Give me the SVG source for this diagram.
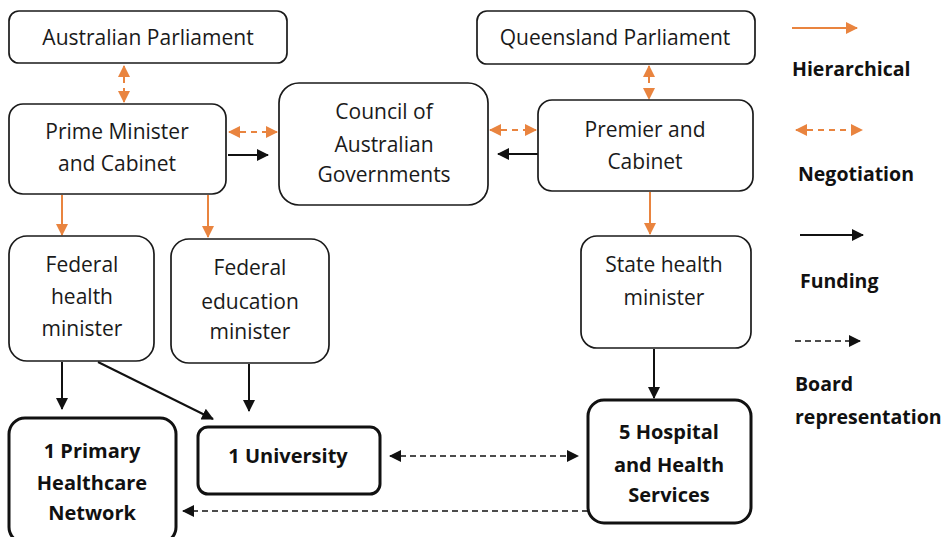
<svg xmlns="http://www.w3.org/2000/svg" width="950" height="537" viewBox="0 0 950 537">
<style>
.box{fill:#fff;stroke:#1a1a1a;stroke-width:1.7}
.thick{fill:#fff;stroke:#111;stroke-width:3}
.t{font-family:"Open Sans","Liberation Sans",sans-serif;font-size:21px;fill:#1a1a1a;text-anchor:middle}
.b{font-family:"Open Sans","Liberation Sans",sans-serif;font-size:20px;font-weight:bold;fill:#111;text-anchor:middle}
.lg{font-family:"Open Sans","Liberation Sans",sans-serif;font-size:19.5px;font-weight:bold;fill:#111}
.hier{stroke:#E9843F;stroke-width:2;fill:none;marker-end:url(#oh)}
.neg{stroke:#E9843F;stroke-width:2;fill:none;stroke-dasharray:6,5;marker-start:url(#oh);marker-end:url(#oh)}
.fund{stroke:#111;stroke-width:2;fill:none;marker-end:url(#bh)}
.board{stroke:#111;stroke-width:1.6;fill:none;stroke-dasharray:6,4;marker-end:url(#bh)}
.board2{stroke:#111;stroke-width:1.6;fill:none;stroke-dasharray:6,4;marker-start:url(#bh);marker-end:url(#bh)}
</style>
<defs>
<marker id="oh" markerUnits="userSpaceOnUse" markerWidth="12" markerHeight="12" refX="11" refY="6" orient="auto-start-reverse">
<path d="M0,0 L12,6 L0,12 z" fill="#E9843F"/>
</marker>
<marker id="bh" markerUnits="userSpaceOnUse" markerWidth="12" markerHeight="12" refX="11" refY="6" orient="auto-start-reverse">
<path d="M0,0 L12,6 L0,12 z" fill="#111"/>
</marker>
</defs>
<rect width="950" height="537" fill="#fff"/>

<g id="connectors">
<line class="neg" x1="124" y1="66" x2="124" y2="102"/>
<line class="neg" x1="229" y1="132" x2="277" y2="132"/>
<line class="fund" x1="228" y1="155" x2="268" y2="155"/>
<line class="neg" x1="649" y1="66" x2="649" y2="99"/>
<line class="neg" x1="490" y1="130" x2="536" y2="130"/>
<line class="fund" x1="538" y1="154" x2="498" y2="154"/>
<line class="hier" x1="62" y1="195" x2="62" y2="235"/>
<line class="hier" x1="208" y1="195" x2="208" y2="237"/>
<line class="hier" x1="650" y1="192" x2="650" y2="234"/>
<line class="fund" x1="62" y1="362" x2="62" y2="409"/>
<line class="fund" x1="98" y1="362" x2="213" y2="419"/>
<line class="fund" x1="249" y1="364" x2="249" y2="411"/>
<line class="fund" x1="654" y1="349" x2="654" y2="398"/>
<line class="board2" x1="390" y1="456" x2="578" y2="456"/>
<line class="board" x1="588" y1="511" x2="183" y2="511"/>
</g>

<g id="australian-parliament">
<rect class="box" x="9" y="11" width="278" height="52" rx="10"/>
<text class="t" x="148" y="45">Australian Parliament</text>
</g>
<g id="prime-minister">
<rect class="box" x="9" y="104" width="217" height="90" rx="14"/>
<text class="t" x="117" y="139">Prime Minister</text>
<text class="t" x="117" y="171">and Cabinet</text>
</g>
<g id="coag">
<rect class="box" x="279" y="83" width="209" height="122" rx="20"/>
<text class="t" x="384" y="119">Council of</text>
<text class="t" x="384" y="152">Australian</text>
<text class="t" x="384" y="182">Governments</text>
</g>
<g id="queensland-parliament">
<rect class="box" x="477" y="11" width="278" height="53" rx="10"/>
<text class="t" x="615" y="45">Queensland Parliament</text>
</g>
<g id="premier">
<rect class="box" x="538" y="100" width="215" height="91" rx="14"/>
<text class="t" x="645" y="137">Premier and</text>
<text class="t" x="645" y="169">Cabinet</text>
</g>
<g id="federal-health">
<rect class="box" x="9" y="236" width="145" height="125" rx="18"/>
<text class="t" x="82" y="272">Federal</text>
<text class="t" x="82" y="304">health</text>
<text class="t" x="82" y="336">minister</text>
</g>
<g id="federal-education">
<rect class="box" x="171" y="239" width="158" height="124" rx="18"/>
<text class="t" x="250" y="275">Federal</text>
<text class="t" x="250" y="309">education</text>
<text class="t" x="250" y="339">minister</text>
</g>
<g id="state-health">
<rect class="box" x="581" y="236" width="170" height="112" rx="16"/>
<text class="t" x="664" y="272">State health</text>
<text class="t" x="664" y="305">minister</text>
</g>
<g id="phn">
<rect class="thick" x="9" y="418" width="167" height="125" rx="16"/>
<text class="b" x="92" y="458">1 Primary</text>
<text class="b" x="92" y="490">Healthcare</text>
<text class="b" x="92" y="520">Network</text>
</g>
<g id="university">
<rect class="thick" x="198" y="427" width="182" height="67" rx="10"/>
<text class="b" x="288" y="463">1 University</text>
</g>
<g id="hospital">
<rect class="thick" x="588" y="400" width="163" height="123" rx="16"/>
<text class="b" x="669" y="439">5 Hospital</text>
<text class="b" x="669" y="472">and Health</text>
<text class="b" x="669" y="502">Services</text>
</g>

<g id="legend">
<line class="hier" x1="792" y1="28" x2="857" y2="28"/>
<text class="lg" x="792" y="76">Hierarchical</text>
<line class="neg" x1="796" y1="130" x2="862" y2="130"/>
<text class="lg" x="798" y="181">Negotiation</text>
<line class="fund" x1="800" y1="235" x2="863" y2="235"/>
<text class="lg" x="800" y="288">Funding</text>
<line class="board" x1="795" y1="341" x2="860" y2="341"/>
<text class="lg" x="795" y="391">Board</text>
<text class="lg" x="795" y="424">representation</text>
</g>
</svg>
